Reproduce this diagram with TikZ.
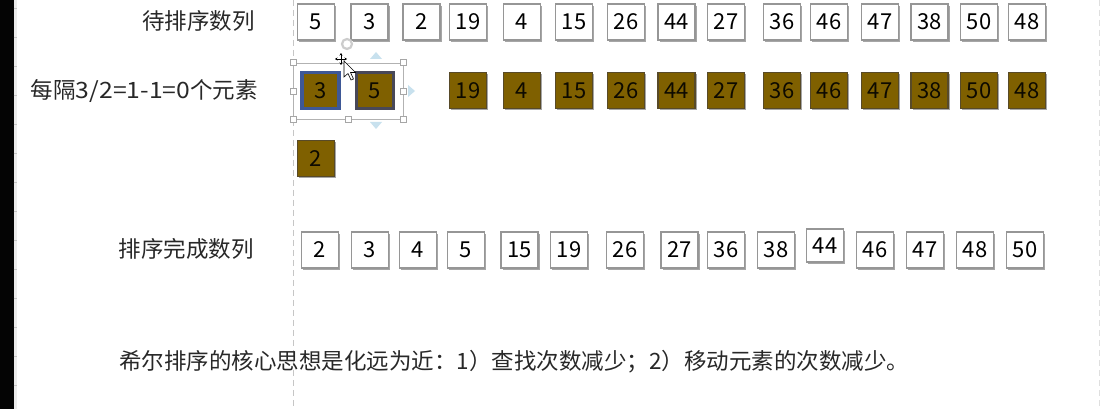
\documentclass[tikz,border=0pt]{standalone}
\usepackage{fontspec}
\setmainfont{Noto Sans CJK SC}
\usetikzlibrary{shadows,arrows.meta}
\definecolor{goldbrown}{RGB}{127,96,0}
\definecolor{goldedge}{RGB}{88,74,40}
\definecolor{boxedge}{RGB}{150,150,150}
\definecolor{selblue}{RGB}{62,88,150}
\definecolor{seldark}{RGB}{72,72,88}
\definecolor{arrowblue}{RGB}{200,225,238}
\definecolor{txt}{RGB}{40,40,40}
\definecolor{barblack}{RGB}{4,4,4}
\tikzset{
  cellbase/.style={minimum width=37pt, minimum height=36pt, inner sep=0pt,
    font=\fontsize{22}{22}\selectfont, line width=1.2pt,
    drop shadow={shadow xshift=1.6pt, shadow yshift=-1.6pt, fill=black, opacity=0.35}},
  wbox/.style={cellbase, draw=boxedge, fill=white, text=black},
  bbox/.style={cellbase, draw=goldedge, fill=goldbrown, text=black!90!goldbrown},
  lbl/.style={font=\fontsize{22.5}{23}\selectfont, text=txt, inner sep=0pt},
  handle/.style={draw=gray!70, fill=white, line width=0.5pt, minimum size=6pt, inner sep=0pt},
  navtri/.style={fill=arrowblue, draw=none},
  curarrow/.style={black, line width=0.8pt, -{Stealth[length=2.5pt,width=3pt]}}
}
\begin{document}
\begin{tikzpicture}[x=1pt, y=-1pt]
\useasboundingbox (0,0) rectangle (1109,409);
\fill[white] (0,0) rectangle (1109,409);
% left editor bar and ruler strip
\node[fill=barblack, draw=none, minimum width=14pt, minimum height=409pt, inner sep=0pt, outer sep=0pt, anchor=north west] (bar) at (0,0) {};
\draw[barblack, line width=13pt] (6.5,0) -- (6.5,409);
\fill[gray!15] (13.5,0) rectangle (16.5,409);
\foreach \t in {8,37,...,409} \draw[gray!45, line width=0.5pt] (13.5,\t) -- (16.5,\t);
% guide lines
\draw[gray!45, line width=0.7pt, dash pattern=on 6pt off 4pt] (293,0) -- (293,409);
\draw[gray!25, line width=0.7pt, dash pattern=on 6pt off 4pt] (1099,0) -- (1099,409);

% labels
\node[lbl, anchor=east] (lab1) at (255,21) {待排序数列};
\node[lbl, anchor=east] (lab2) at (258,91) {每隔\scalebox{1.1}[1]{3/2=1-1=0}个元素};
\node[lbl, anchor=east] (lab3) at (254,249) {排序完成数列};
\node[lbl, anchor=west] (lab4) at (119,362) {希尔排序的核心思想是化远为近：1）查找次数减少；2）移动元素的次数减少。};

% row 1: unsorted
\foreach \v/\x [count=\i] in {5/316,3/369.5,2/421.5,19/468,4/522,15/574,26/626,44/676.5,27/726,36/782,46/829,47/880,38/929.5,50/979,48/1027}
  \node[wbox] (u\i) at (\x,22) {\v};

% row 2: brown boxes
\node[bbox, draw=selblue, line width=3.2pt] (g1) at (320.5,90.5) {3};
\node[bbox, draw=seldark, line width=2.4pt] (g2) at (375,90.5) {5};
\foreach \v/\x [count=\i from 3] in {19/468,4/522,15/574,26/626,44/676.5,27/726,36/782,46/829,47/880,38/929.5,50/979,48/1027}
  \node[bbox] (g\i) at (\x,90.5) {\v};

% row 3
\node[bbox] (h1) at (316,158.5) {2};

% selection frame around the 3 and 5 boxes
\node[draw=gray!60, line width=0.5pt, minimum width=110pt, minimum height=56pt, inner sep=0pt] (sel) at (348,91) {};
\foreach \a in {north west,north east,south west,south,south east,west,east}
  \node[handle] at (sel.\a) {};
\node[draw=gray!40, line width=2.2pt, circle, minimum size=10pt, inner sep=0pt] (rot) at (347,44) {};
\fill[navtri] (370,59) -- (382,59) -- (376,52) -- cycle;
\fill[navtri] (408,85) -- (408,97) -- (415,91) -- cycle;
\fill[navtri] (370,122) -- (382,122) -- (376,129) -- cycle;

% mouse cursor (move cross + pointer)
\coordinate (cur) at (341,59);
\draw[curarrow] (cur) -- ++(-6,0);
\draw[curarrow] (cur) -- ++(6,0);
\draw[curarrow] (cur) -- ++(0,-6);
\draw[curarrow] (cur) -- ++(0,6);
\filldraw[fill=white, draw=black, line width=0.6pt] (344,61) -- (344,77) -- (348,73.5) -- (351,80) -- (353.5,79) -- (350.5,72.5) -- (355.5,72.5) -- cycle;

% row 4: sorted
\foreach \v/\x [count=\i] in {2/320,3/370,4/418,5/466,15/519.5,19/569,26/625,27/679.5,36/726,38/776}
  \node[wbox] (s\i) at (\x,250) {\v};
\node[wbox, minimum height=33pt] (s11) at (825,245.5) {44};
\foreach \v/\x [count=\i from 12] in {46/875,47/925,48/975,50/1025}
  \node[wbox] (s\i) at (\x,250) {\v};
\end{tikzpicture}
\end{document}
